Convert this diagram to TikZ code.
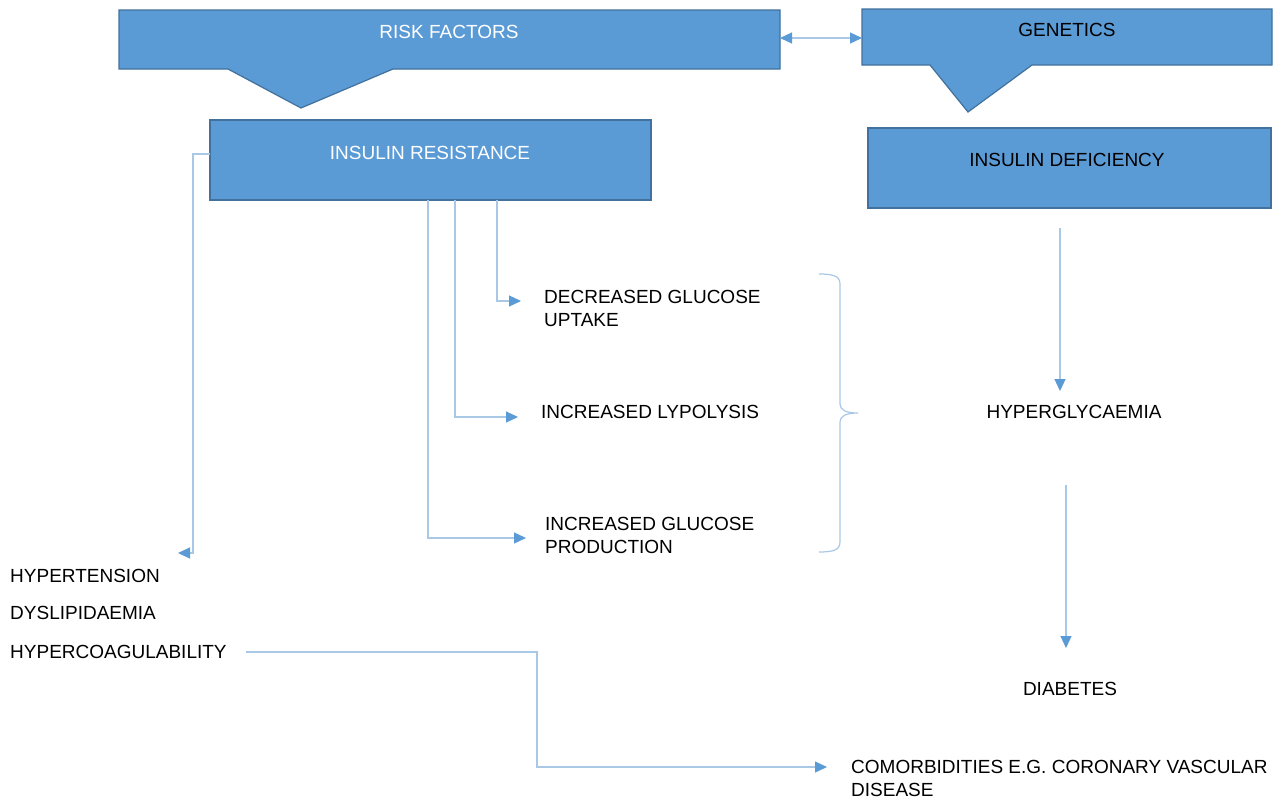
\documentclass[tikz,border=0pt]{standalone}
\usepackage{fontspec}
\setmainfont{Liberation Sans}
\usetikzlibrary{arrows.meta,calc}
\definecolor{boxblue}{HTML}{5B9BD5}
\definecolor{boxedge}{HTML}{41719C}
\definecolor{linecol}{HTML}{A9C8E6}
\definecolor{tipcol}{HTML}{5B9BD5}
\begin{document}
\begin{tikzpicture}[x=1pt,y=-1pt,
  lbl/.style={font=\fontsize{19}{23}\selectfont, inner sep=0pt, align=left},
  boxshape/.style={fill=boxblue, draw=boxedge, line width=1.2pt},
  area/.style={anchor=north west, inner sep=0pt, outer sep=0pt},
  tipA/.style={-{Triangle[length=12pt,width=11pt,color=tipcol]}},
  conn/.style={draw=linecol, line width=1.2pt, tipA},
  bracestyle/.style={draw=linecol, line width=1.2pt}
]
\useasboundingbox (0,0) rectangle (1285,801);
\fill[white] (0,0) rectangle (1285,801);

% callout: risk factors
\node[area, minimum width=661pt, minimum height=59pt] (rf) at (119,10) {};
\draw[boxshape, line join=miter] (rf.north west) -- (rf.north east) -- (rf.south east) -- (393,69) -- (301,108) -- (228,69) -- (rf.south west) -- cycle;
% callout: genetics
\node[area, minimum width=410pt, minimum height=56pt] (gen) at (862,9) {};
\draw[boxshape, line join=miter] (gen.north west) -- (gen.north east) -- (gen.south east) -- (1032,65) -- (968,112) -- (930,65) -- (gen.south west) -- cycle;
% boxes
\node[area, boxshape, minimum width=441pt, minimum height=80pt] (ir) at (210,120) {};
\node[area, boxshape, minimum width=403pt, minimum height=80pt] (id) at (868,128) {};

% texts
\node[lbl, text=white] (rft) at (449,32) {RISK FACTORS};
\node[lbl, text=white] (irt) at (430,153) {INSULIN RESISTANCE};
\node[lbl] (gent) at (1067,30) {GENETICS};
\node[lbl] (idt) at (1067,160) {INSULIN DEFICIENCY};
\node[lbl, anchor=west] (dgu) at (544,308) {DECREASED GLUCOSE\\UPTAKE};
\node[lbl, anchor=west] (il) at (541,412) {INCREASED LYPOLYSIS};
\node[lbl, anchor=west] (igp) at (545,535) {INCREASED GLUCOSE\\PRODUCTION};
\node[lbl] (hg) at (1074,412) {HYPERGLYCAEMIA};
\node[lbl] (dia) at (1070,689) {DIABETES};
\node[lbl, anchor=west] (ht) at (10,576) {HYPERTENSION};
\node[lbl, anchor=west] (dl) at (10,613) {DYSLIPIDAEMIA};
\node[lbl, anchor=west] (hc) at (10,652) {HYPERCOAGULABILITY};
\node[lbl, anchor=west] (com) at (851,778) {COMORBIDITIES E.G. CORONARY VASCULAR\\DISEASE};

% connector end points
\coordinate (htin) at (178,553);
\coordinate (dguin) at (521,301);
\coordinate (ilin) at (518,417);
\coordinate (igpin) at (526,538);
\coordinate (hgout) at (1060,228);
\coordinate (hgin) at (1060,391);
\coordinate (diaout) at (1066,485);
\coordinate (diain) at (1066,648);
\coordinate (comin) at (827,767);

% connectors
\draw[conn, {Triangle[length=12pt,width=11pt,color=tipcol]}-{Triangle[length=12pt,width=11pt,color=tipcol]}] (rf.east |- 0,38) -- (gen.west |- 0,38);
\draw[conn] (ir.west |- 0,154) -| (193,553) -- (htin);
\draw[conn] (497,0 |- ir.south) |- (dguin);
\draw[conn] (455,0 |- ir.south) |- (ilin);
\draw[conn] (428,0 |- ir.south) |- (igpin);
\draw[conn] (hgout) -- (hgin);
\draw[conn] (diaout) -- (diain);
\draw[conn] ([xshift=19pt]hc.east) -| (537,767) -- (comin);

% brace
\draw[bracestyle] (819,274) .. controls (833,274) and (840,276) .. (840,284) -- (840,404) .. controls (840,410) and (846,413) .. (858,413) .. controls (846,413) and (840,416) .. (840,422) -- (840,542) .. controls (840,550) and (833,552) .. (819,552);
\end{tikzpicture}
\end{document}
